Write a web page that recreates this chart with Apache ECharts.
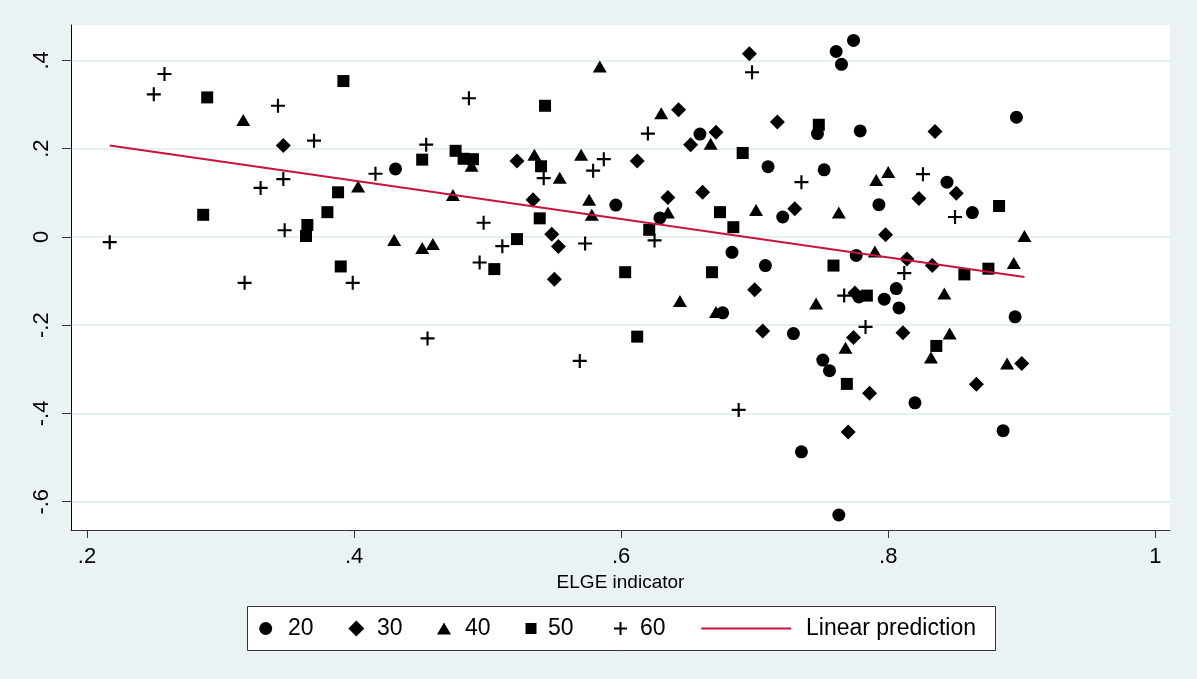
<!DOCTYPE html>
<html>
<head>
<meta charset="utf-8">
<script src="https://cdn.jsdelivr.net/npm/echarts@6/dist/echarts.min.js"></script>
<style>
html, body { margin: 0; padding: 0; background: #eaf2f3; }
#chart { width: 1197px; height: 679px; }
</style>
</head>
<body>
<div id="chart"></div>
<script>
// values
var x20 = [0.431, 0.596, 0.629, 0.659, 0.683, 0.710, 0.708, 0.721, 0.747, 0.752, 0.761, 0.765, 0.774, 0.779, 0.776, 0.793, 0.844, 0.863, 0.896, 0.806, 0.797, 0.808, 0.778, 0.676, 0.729, 0.751, 0.756, 0.735, 0.763, 0.820, 0.895, 0.886];
var y20 = [0.154, 0.072, 0.043, 0.233, -0.035, 0.159, -0.065, 0.045, 0.234, 0.152, 0.420, 0.391, 0.445, 0.240, -0.042, 0.073, 0.124, 0.055, 0.271, -0.117, -0.141, -0.161, -0.136, -0.172, -0.219, -0.279, -0.303, -0.487, -0.630, -0.376, -0.181, -0.439];

var x30 = [0.347, 0.522, 0.534, 0.548, 0.553, 0.550, 0.612, 0.635, 0.643, 0.652, 0.671, 0.661, 0.696, 0.717, 0.730, 0.798, 0.835, 0.823, 0.851, 0.814, 0.833, 0.700, 0.706, 0.775, 0.774, 0.786, 0.770, 0.811, 0.866, 0.900];
var y30 = [0.207, 0.172, 0.084, 0.006, -0.022, -0.096, 0.172, 0.089, 0.288, 0.209, 0.237, 0.101, 0.415, 0.260, 0.064, 0.005, 0.239, 0.087, 0.099, -0.050, -0.065, -0.120, -0.213, -0.127, -0.228, -0.354, -0.442, -0.217, -0.334, -0.287];

var x40 = [0.317, 0.403, 0.430, 0.451, 0.459, 0.474, 0.488, 0.535, 0.554, 0.570, 0.576, 0.578, 0.584, 0.630, 0.667, 0.635, 0.701, 0.763, 0.791, 0.800, 0.790, 0.902, 0.894, 0.644, 0.671, 0.746, 0.768, 0.842, 0.846, 0.832, 0.889];
var y40 = [0.265, 0.114, -0.007, -0.025, -0.016, 0.095, 0.161, 0.186, 0.134, 0.186, 0.084, 0.050, 0.386, 0.280, 0.211, 0.055, 0.061, 0.055, 0.129, 0.147, -0.033, 0.002, -0.059, -0.145, -0.170, -0.151, -0.251, -0.128, -0.219, -0.273, -0.287];

var x50 = [0.290, 0.392, 0.287, 0.388, 0.380, 0.365, 0.364, 0.390, 0.451, 0.476, 0.482, 0.489, 0.543, 0.540, 0.539, 0.522, 0.505, 0.603, 0.621, 0.612, 0.668, 0.674, 0.684, 0.691, 0.748, 0.759, 0.784, 0.769, 0.836, 0.857, 0.875, 0.883];
var y50 = [0.316, 0.353, 0.050, 0.101, 0.056, 0.027, 0.002, -0.067, 0.175, 0.195, 0.177, 0.176, 0.297, 0.160, 0.042, -0.005, -0.073, -0.080, 0.016, -0.226, -0.080, 0.056, 0.022, 0.190, 0.254, -0.065, -0.133, -0.333, -0.247, -0.085, -0.072, 0.070];

var x60 = [0.217, 0.250, 0.258, 0.318, 0.330, 0.343, 0.347, 0.348, 0.370, 0.399, 0.416, 0.454, 0.455, 0.486, 0.497, 0.494, 0.511, 0.542, 0.579, 0.587, 0.573, 0.569, 0.620, 0.625, 0.698, 0.735, 0.688, 0.767, 0.783, 0.826, 0.812, 0.850];
var y60 = [-0.012, 0.323, 0.369, -0.104, 0.111, 0.297, 0.131, 0.015, 0.218, -0.104, 0.143, 0.209, -0.230, 0.314, 0.032, -0.058, -0.021, 0.133, 0.150, 0.176, -0.015, -0.281, 0.234, -0.008, 0.373, 0.124, -0.392, -0.133, -0.204, 0.142, -0.082, 0.045];

// fitted line, ends as drawn
var fitX = [0.217, 0.902];
var fitY = [0.207, -0.091];

var xTicks = [0.2, 0.4, 0.6, 0.8, 1];
var yTicks = [-0.6, -0.4, -0.2, 0, 0.2, 0.4];

var groups = ['20', '30', '40', '50', '60'];
var fitName = 'Linear prediction';

var FONT = '"Liberation Sans", Arial, sans-serif';
var plus = 'path://M6,0h2.2v6h6v2.2h-6v6h-2.2v-6h-6v-2.2h6z';

function pairs(xs, ys) {
  var out = [];
  for (var i = 0; i < xs.length; i++) out.push([xs[i], ys[i]]);
  return out;
}
function stataNum(v) {
  var s = String(Math.round(v * 10) / 10);
  return s.replace('0.', '.');
}

var marks = [
  { data: pairs(x20, y20), symbol: 'circle', size: 13 },
  { data: pairs(x30, y30), symbol: 'diamond', size: 15 },
  { data: pairs(x40, y40), symbol: 'triangle', size: [14, 12] },
  { data: pairs(x50, y50), symbol: 'rect', size: 12 },
  { data: pairs(x60, y60), symbol: plus, size: 14 }
];

var series = [];
for (var i = 0; i < groups.length; i++) {
  series.push({
    name: groups[i],
    type: 'scatter',
    symbol: marks[i].symbol,
    symbolSize: marks[i].size,
    itemStyle: { color: '#000', opacity: 1 },
    data: marks[i].data
  });
}
series.push({
  name: fitName,
  type: 'line',
  showSymbol: false,
  symbol: 'none',
  lineStyle: { color: '#c8143c', width: 2 },
  itemStyle: { color: '#c8143c' },
  data: pairs(fitX, fitY),
  z: 5
});

// legend keys placed one by one, as in the Stata box
var keys = [
  { name: '20', center: 265.7, textStart: 288, w: 13, h: 13 },
  { name: '30', center: 356.3, textStart: 377, w: 16, h: 16 },
  { name: '40', center: 444, textStart: 465, w: 14, h: 12 },
  { name: '50', center: 531, textStart: 548, w: 11, h: 11 },
  { name: '60', center: 620.5, textStart: 640, w: 13, h: 13 },
  { name: fitName, center: 746.3, textStart: 806, w: 90, h: 2, icon: 'rect' }
];
var legends = keys.map(function (k) {
  var lg = {
    data: [k.icon ? { name: k.name, icon: k.icon } : k.name],
    left: k.center - k.w / 2,
    top: 617,
    itemWidth: k.w,
    itemHeight: k.h,
    selectedMode: false,
    padding: 0,
    textStyle: {
      fontFamily: FONT,
      fontSize: 23,
      color: '#000',
      padding: [0, 0, 0, k.textStart - (k.center + k.w / 2) - 5]
    }
  };
  return lg;
});

var chart = echarts.init(document.getElementById('chart'));
chart.setOption({
  animation: false,
  backgroundColor: '#eaf2f3',
  textStyle: { fontFamily: FONT },
  grid: {
    left: 71, right: 27, top: 25, bottom: 149,
    show: true, backgroundColor: '#fff', borderWidth: 0
  },
  graphic: [{
    type: 'rect',
    shape: { x: 247.5, y: 606.5, width: 748, height: 44 },
    style: { fill: '#fff', stroke: '#333', lineWidth: 1 },
    z: 0
  }],
  legend: legends,
  xAxis: {
    type: 'value',
    min: 0.188,
    max: 1.011,
    name: 'ELGE indicator',
    nameLocation: 'middle',
    nameGap: 38,
    nameTextStyle: { fontFamily: FONT, fontSize: 19, color: '#000' },
    axisLine: { show: true, onZero: false, lineStyle: { color: '#333', width: 1 } },
    axisTick: { show: true, length: 8, customValues: xTicks, lineStyle: { color: '#333' } },
    axisLabel: { customValues: xTicks, margin: 16, fontSize: 22, color: '#000', fontFamily: FONT, formatter: stataNum },
    splitLine: { show: false }
  },
  yAxis: {
    type: 'value',
    min: -0.664,
    max: 0.48,
    axisLine: { show: true, onZero: false, lineStyle: { color: '#000', width: 1 } },
    axisTick: { show: true, length: 9, customValues: yTicks, lineStyle: { color: '#333' } },
    axisLabel: { customValues: yTicks, rotate: 90, margin: 18, fontSize: 22, color: '#000', fontFamily: FONT, formatter: stataNum },
    splitLine: { show: true, lineStyle: { color: '#e6eff1', width: 2 } }
  },
  series: series
});
</script>
</body>
</html>
